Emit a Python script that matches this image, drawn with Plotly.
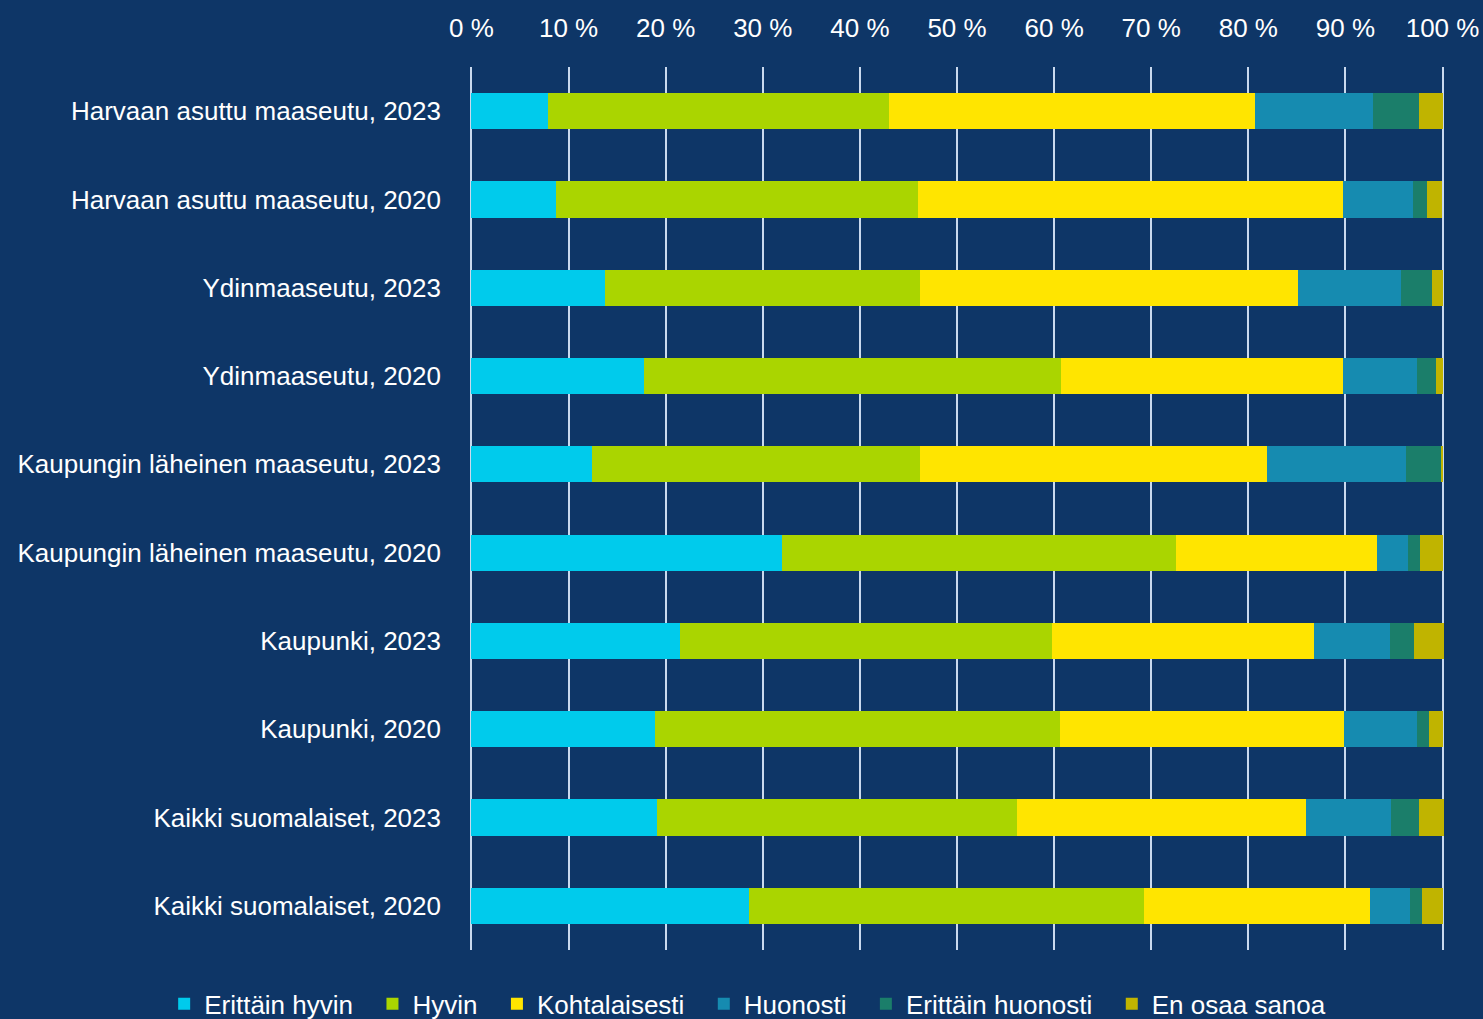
import plotly.graph_objects as go

categories = [
    "Harvaan asuttu maaseutu, 2023",
    "Harvaan asuttu maaseutu, 2020",
    "Ydinmaaseutu, 2023",
    "Ydinmaaseutu, 2020",
    "Kaupungin läheinen maaseutu, 2023",
    "Kaupungin läheinen maaseutu, 2020",
    "Kaupunki, 2023",
    "Kaupunki, 2020",
    "Kaikki suomalaiset, 2023",
    "Kaikki suomalaiset, 2020",
]

erittain_hyvin = [7.9, 8.7, 13.8, 17.8, 12.4, 32.0, 21.5, 18.9, 19.1, 28.6]
hyvin = [35.1, 37.3, 32.4, 42.9, 33.8, 40.6, 38.3, 41.7, 37.1, 40.7]
kohtalaisesti = [37.7, 43.7, 38.9, 29.1, 35.7, 20.7, 27.0, 29.3, 29.7, 23.2]
huonosti = [12.1, 7.3, 10.6, 7.6, 14.3, 3.1, 7.8, 7.5, 8.8, 4.1]
erittain_huonosti = [4.8, 1.4, 3.2, 1.9, 3.7, 1.3, 2.5, 1.2, 2.9, 1.3]
en_osaa_sanoa = [2.4, 1.5, 1.1, 0.7, 0.1, 2.3, 3.0, 1.4, 2.5, 2.1]

series = [
    ("Erittäin hyvin", erittain_hyvin, "#00cbec"),
    ("Hyvin", hyvin, "#aad500"),
    ("Kohtalaisesti", kohtalaisesti, "#ffe500"),
    ("Huonosti", huonosti, "#168bb0"),
    ("Erittäin huonosti", erittain_huonosti, "#1b7e6a"),
    ("En osaa sanoa", en_osaa_sanoa, "#c0b400"),
]

tick_vals = [0, 10, 20, 30, 40, 50, 60, 70, 80, 90, 100]
tick_text = [f"{v} %" for v in tick_vals]

FONT = "Liberation Sans, Arial, sans-serif"
BG = "#0e3667"
PAD = "\u00a0\u00a0"  # invisible trailing space to widen legend entries

fig = go.Figure()
for name, vals, color in series:
    fig.add_trace(go.Bar(
        y=categories, x=vals, name=name + PAD, orientation="h",
        marker=dict(color=color, line=dict(width=0)),
        width=0.41,
    ))

fig.update_layout(
    barmode="stack",
    width=1483, height=1019,
    paper_bgcolor=BG, plot_bgcolor=BG,
    margin=dict(l=470, r=39, t=67, b=69, autoexpand=False),
    font=dict(family=FONT, color="white", size=26),
    xaxis=dict(
        side="top", range=[-0.15, 100.15], tickvals=tick_vals, ticktext=tick_text,
        showgrid=True, gridcolor="#c9d9ee", gridwidth=2, zeroline=False,
        showline=False, ticks="", ticklabelstandoff=24,
        ticklabeloverflow="allow",
        tickfont=dict(size=26, family=FONT, color="white"),
    ),
    yaxis=dict(
        autorange="reversed", showgrid=False, zeroline=False, showline=False,
        ticks="", ticklabelstandoff=28,
        tickfont=dict(size=26, family=FONT, color="white"),
    ),
    legend=dict(
        orientation="h", xref="paper", x=-0.314, xanchor="left",
        yref="paper", y=-0.061, yanchor="middle",
        font=dict(size=26, family=FONT, color="white"),
        traceorder="normal", itemsizing="constant",
        bgcolor="rgba(0,0,0,0)", tracegroupgap=0,
    ),
    showlegend=True,
)

fig.write_html("out.html", config={"displayModeBar": False})

with open("out.html", "r", encoding="utf-8") as f:
    html = f.read()
html = html.replace("<head>", "<head><style>html,body{margin:0;padding:0;background:#0e3667;}</style>", 1)
with open("out.html", "w", encoding="utf-8") as f:
    f.write(html)
